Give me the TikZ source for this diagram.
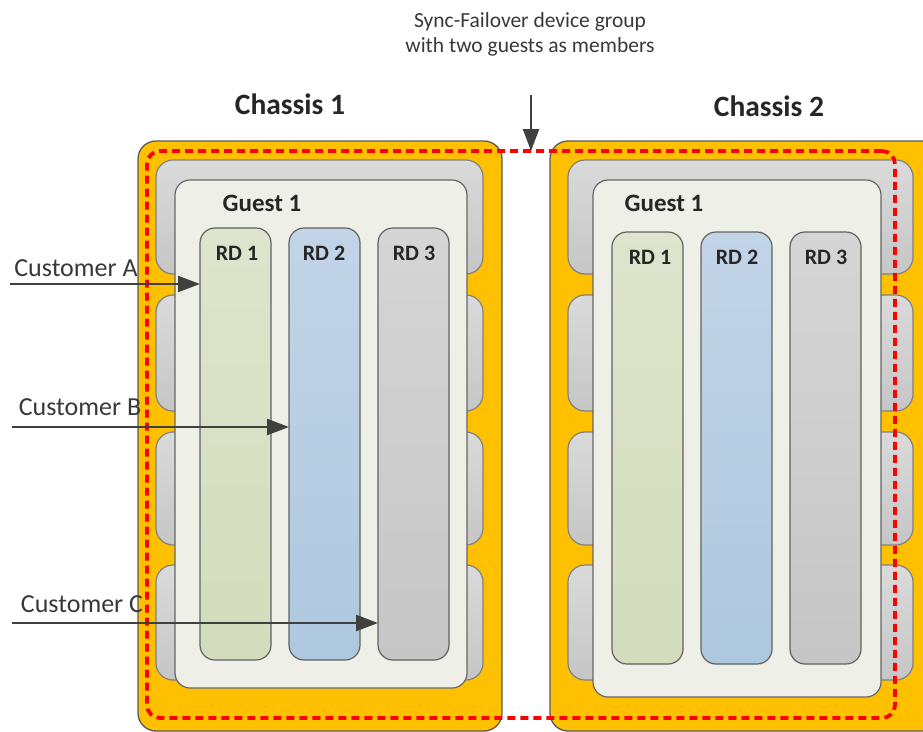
\documentclass[tikz,border=0pt]{standalone}
\usepackage{fontspec}
\setmainfont{Carlito}
\usetikzlibrary{arrows.meta}
\definecolor{orng}{HTML}{FFC000}
\definecolor{bladetop}{HTML}{DADADA}
\definecolor{bladebot}{HTML}{C6C6C6}
\definecolor{guestc}{HTML}{EEF0E8}
\definecolor{rdatop}{HTML}{DEE4CD}
\definecolor{rdabot}{HTML}{D3DCBC}
\definecolor{rdbtop}{HTML}{C2D4E7}
\definecolor{rdbbot}{HTML}{AEC8E0}
\definecolor{rdctop}{HTML}{D5D5D5}
\definecolor{rdcbot}{HTML}{C6C6C6}
\definecolor{txt}{HTML}{262626}
\tikzset{
  box/.style={inner sep=0pt, outer sep=0pt, anchor=north west},
  chassis/.style={box, draw=black!65, fill=orng, rounded corners=18pt, line width=1.3pt},
  blade/.style={box, draw=black!50, top color=bladetop, bottom color=bladebot, rounded corners=17pt, line width=1.2pt},
  guest/.style={box, draw=black!60, fill=guestc, rounded corners=15pt, line width=1.2pt},
  rdbox/.style={box, draw=black!62, rounded corners=15pt, line width=1.2pt, minimum width=71pt},
  rda/.style={rdbox, top color=rdatop, bottom color=rdabot},
  rdb/.style={rdbox, top color=rdbtop, bottom color=rdbbot},
  rdc/.style={rdbox, top color=rdctop, bottom color=rdcbot},
  syncgrp/.style={box, draw=red, line width=3.8pt, dash pattern=on 8pt off 5pt, rounded corners=13pt},
  arr/.style={draw=black!75, line width=2.4pt, -{Triangle[length=22pt,width=16pt]}},
  title/.style={font=\bfseries\fontsize{29.5}{32}\selectfont, text=txt},
  lbl/.style={font=\bfseries\fontsize{25}{28}\selectfont, text=txt},
  rdl/.style={font=\bfseries\fontsize{22}{25}\selectfont, text=txt},
  cust/.style={font=\fontsize{26}{29}\selectfont, text=black!78},
  note/.style={font=\fontsize{21.5}{25}\selectfont, text=black!78, align=center}
}
\begin{document}
\begin{tikzpicture}[x=1pt,y=-1pt]
\useasboundingbox (0,0) rectangle (923,731);

% chassis
\node[chassis, minimum width=364pt, minimum height=590pt] (ch1) at (138,141) {};
\node[chassis, minimum width=390pt, minimum height=590pt] (ch2) at (550,141) {};

% blades
\foreach \y/\h [count=\i] in {160/114, 295/116, 432/113, 565/115}{
  \node[blade, minimum width=327pt, minimum height=\h pt] (b1\i) at (156,\y) {};
  \node[blade, minimum width=345pt, minimum height=\h pt] (b2\i) at (568,\y) {};
}

% guests
\node[guest, minimum width=292pt, minimum height=508pt] (g1) at (175,180) {};
\node[guest, minimum width=288pt, minimum height=517pt] (g2) at (593,180) {};
\node[lbl] (g1l) at (262,203) {Guest 1};
\node[lbl] (g2l) at (664,203) {Guest 1};

% route domains chassis 1
\node[rda, minimum height=432pt] (r11) at (200,228) {};
\node[rdb, minimum height=432pt] (r12) at (289,228) {};
\node[rdc, minimum height=432pt] (r13) at (378,228) {};
\node[rdl] at (237,253) {RD 1};
\node[rdl] at (324,253) {RD 2};
\node[rdl] at (414,253) {RD 3};

% route domains chassis 2
\node[rda, minimum height=432pt] (r21) at (612,232) {};
\node[rdb, minimum height=432pt] (r22) at (701,232) {};
\node[rdc, minimum height=432pt] (r23) at (790,232) {};
\node[rdl] at (650,257) {RD 1};
\node[rdl] at (737,257) {RD 2};
\node[rdl] at (826,257) {RD 3};

% sync-failover group
\node[syncgrp, minimum width=748pt, minimum height=567pt] (grp) at (147,151) {};

% titles
\node[title] (t1) at (290,104) {Chassis 1};
\node[title] (t2) at (769,106) {Chassis 2};
\node[note] (sf) at (530,34) {Sync-Failover device group\\with two guests as members};
\coordinate (sfa) at (531,95);
\draw[arr] (sfa) -- (sfa |- grp.north);

% customers
\node[cust] (la) at (76,268) {Customer A};
\node[cust] (lb) at (80,407) {Customer B};
\node[cust] (lc) at (82,604) {Customer C};
\coordinate (ca) at (10,284);
\coordinate (cb) at (12,427);
\coordinate (cc) at (12,623);
\draw[arr] (ca) -- (ca -| r11.west);
\draw[arr] (cb) -- (cb -| r12.west);
\draw[arr] (cc) -- (cc -| r13.west);
\end{tikzpicture}
\end{document}
